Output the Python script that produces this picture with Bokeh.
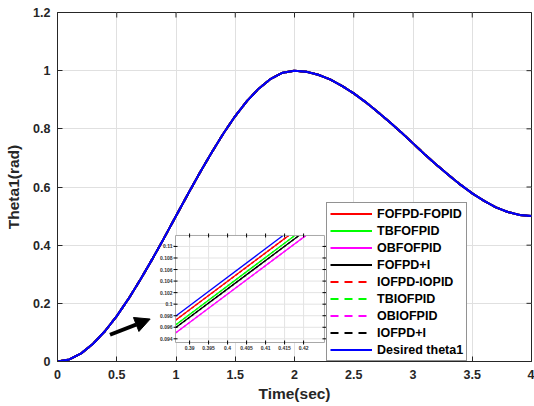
import numpy as np
from bokeh.plotting import figure
from bokeh.models import (Range1d, FixedTicker, Legend, LegendItem,
                          Arrow, NormalHead, NumeralTickFormatter)
from bokeh.core.properties import value
from bokeh.embed import file_html
from bokeh.resources import INLINE

# ---------------- data ----------------
time_s = [0.0, 0.1, 0.2, 0.3, 0.4, 0.5, 0.6, 0.7, 0.8, 0.9,
          1.0, 1.1, 1.2, 1.3, 1.4, 1.5, 1.6, 1.7, 1.8, 1.9,
          2.0, 2.1, 2.2, 2.3, 2.4, 2.5, 2.6, 2.7, 2.8, 2.9,
          3.0, 3.1, 3.2, 3.3, 3.4, 3.5, 3.6, 3.7, 3.8, 3.9, 4.0]
theta1 = [0.000, 0.007, 0.028, 0.061, 0.104, 0.156, 0.216, 0.282, 0.352, 0.425,
          0.500, 0.575, 0.648, 0.718, 0.784, 0.844, 0.896, 0.939, 0.972, 0.993,
          1.000, 0.996, 0.986, 0.970, 0.948, 0.922, 0.892, 0.859, 0.824, 0.788,
          0.750, 0.712, 0.676, 0.641, 0.608, 0.578, 0.552, 0.530, 0.514, 0.504, 0.500]

series_names = ["FOFPD-FOPID", "TBFOFPID", "OBFOFPID", "FOFPD+I",
                "IOFPD-IOPID", "TBIOFPID", "OBIOFPID", "IOFPD+I", "Desired theta1"]
series_colors = ["#ff0000", "#00ff00", "#ff00ff", "#000000",
                 "#ff0000", "#00ff00", "#ff00ff", "#000000", "#0000ff"]
series_dash = ["solid", "solid", "solid", "solid",
               "8 6", "8 6", "8 6", "8 6", "solid"]

x_ticks = [0, 0.5, 1, 1.5, 2, 2.5, 3, 3.5, 4]
x_tick_labels = ["0", "0.5", "1", "1.5", "2", "2.5", "3", "3.5", "4"]
y_ticks = [0, 0.2, 0.4, 0.6, 0.8, 1, 1.2]
y_tick_labels = ["0", "0.2", "0.4", "0.6", "0.8", "1", "1.2"]

# inset (zoomed view)
inset_xlim = [0.3863, 0.4255]
inset_ylim = [0.09336, 0.1119]
inset_place_x = [0.996, 2.253]   # where the inset sits, in main-axis units
inset_place_y = [0.0653, 0.4333]
inset_xticks = [0.39, 0.395, 0.4, 0.405, 0.41, 0.415, 0.42]
inset_xlabels = ["0.39", "0.395", "0.4", "0.405", "0.41", "0.415", "0.42"]
inset_yticks = [0.094, 0.096, 0.098, 0.1, 0.102, 0.104, 0.106, 0.108, 0.11]
inset_ylabels = ["0.094", "0.096", "0.098", "0.1", "0.102", "0.104", "0.106", "0.108", "0.11"]
inset_t_magenta = [0.3863, 0.4206]
inset_y_magenta = [0.0950, 0.1119]
inset_t_black = [0.3863, 0.4188]
inset_y_black = [0.0959, 0.1119]
inset_t_green = [0.3863, 0.4177]
inset_y_green = [0.0964, 0.1119]
inset_t_red = [0.3863, 0.4161]
inset_y_red = [0.0972, 0.1119]
inset_t_blue = [0.3863, 0.4146]
inset_y_blue = [0.0979, 0.1119]

arrow_from = [0.443, 0.092]
arrow_to = [0.782, 0.146]

FONT = "Liberation Sans"
DARK = "#262626"

# ---------------- main figure ----------------
p = figure(width=534, height=406, x_range=Range1d(0, 4), y_range=Range1d(0, 1.2),
           output_backend="svg", toolbar_location=None,
           min_border_left=57, min_border_right=3, min_border_top=12, min_border_bottom=45)
p.background_fill_color = "white"
p.border_fill_color = "white"
p.outline_line_color = DARK
p.outline_line_width = 1

def style_axis(ax, ticks, labels):
    ax.ticker = FixedTicker(ticks=ticks)
    ax.formatter = NumeralTickFormatter(format="0.[0]")
    ax.major_label_overrides = {t: l for t, l in zip(ticks, labels)}
    ax.major_tick_in = 5
    ax.major_tick_out = 0
    ax.minor_tick_in = 0
    ax.minor_tick_out = 0
    ax.axis_line_color = DARK
    ax.major_tick_line_color = DARK
    ax.major_label_text_font = FONT
    ax.major_label_text_font_style = "bold"
    ax.major_label_text_color = DARK
    ax.major_label_text_font_size = "12.5px"
    ax.axis_label_text_font = FONT
    ax.axis_label_text_font_style = "bold"
    ax.axis_label_text_font_size = "15.5px"
    ax.axis_label_text_color = DARK

xa = p.xaxis[0]
style_axis(xa, x_ticks, x_tick_labels)
xa.major_label_standoff = 8
xa.axis_label = "Time(sec)"
xa.axis_label_standoff = 3
ya = p.yaxis[0]
style_axis(ya, y_ticks, y_tick_labels)
ya.major_label_standoff = 7
ya.axis_label = "Theta1(rad)"
ya.axis_label_standoff = 8

p.grid.grid_line_color = "#e0e0e0"
p.grid.grid_line_width = 1

# inward ticks on the top and right edges (half of each dash is clipped by the frame)
p.scatter(x_ticks, [1.2] * len(x_ticks), marker="dash", angle=np.pi / 2, size=10,
          line_color=DARK, line_width=1)
p.scatter([4] * len(y_ticks), y_ticks, marker="dash", size=10, line_color=DARK, line_width=1)

renderers = []
for name, col, dash in zip(series_names, series_colors, series_dash):
    r = p.line(time_s, theta1, line_color=col, line_width=2, line_dash=dash)
    renderers.append(r)

legend = Legend(items=[LegendItem(label=n, renderers=[r]) for n, r in zip(series_names, renderers)],
                location=(269, 0))
legend.border_line_color = DARK
legend.border_line_width = 1
legend.background_fill_color = "white"
legend.background_fill_alpha = 1
legend.label_text_font = FONT
legend.label_text_font_size = "12.5px"
legend.label_text_font_style = "bold"
legend.label_text_color = "black"
legend.glyph_width = 42
legend.glyph_height = 15
legend.label_height = 15
legend.label_standoff = 5
legend.spacing = 2
legend.padding = 3
legend.margin = 0
p.add_layout(legend)

p.add_layout(Arrow(end=NormalHead(size=15, fill_color="black", line_color="black", line_width=1),
                   x_start=arrow_from[0], y_start=arrow_from[1],
                   x_end=arrow_to[0], y_end=arrow_to[1],
                   line_color="black", line_width=4))

# ---------------- inset ----------------
sub = p.subplot(x_source=Range1d(*inset_xlim), y_source=Range1d(*inset_ylim),
                x_target=Range1d(*inset_place_x), y_target=Range1d(*inset_place_y))

sub.quad(left=[inset_xlim[0]], right=[inset_xlim[1]], bottom=[inset_ylim[0]], top=[inset_ylim[1]],
         fill_color="white", line_color=None)
nx, ny = len(inset_xticks), len(inset_yticks)
sub.segment(x0=inset_xticks, y0=[inset_ylim[0]] * nx, x1=inset_xticks, y1=[inset_ylim[1]] * nx,
            line_color="#e3e3e3", line_width=1)
sub.segment(x0=[inset_xlim[0]] * ny, y0=inset_yticks, x1=[inset_xlim[1]] * ny, y1=inset_yticks,
            line_color="#e3e3e3", line_width=1)

inset_lines = [
    (inset_t_magenta, inset_y_magenta, "#ff00ff"),
    (inset_t_black, inset_y_black, "#000000"),
    (inset_t_green, inset_y_green, "#00ff00"),
    (inset_t_red, inset_y_red, "#ff0000"),
    (inset_t_blue, inset_y_blue, "#0000ff"),
]
for tt, yy, col in inset_lines:
    sub.line(tt, yy, line_color=col, line_width=1.3)
for tt, yy, col in inset_lines[:4]:
    sub.line(tt, yy, line_color=col, line_width=1.3, line_dash="3 2")

sub.quad(left=[inset_xlim[0]], right=[inset_xlim[1]], bottom=[inset_ylim[0]], top=[inset_ylim[1]],
         fill_color=None, line_color="#a8a8a8", line_width=1)
sub.scatter(inset_xticks, [inset_ylim[0]] * nx, marker="dash", angle=np.pi / 2, size=4, line_color="black")
sub.scatter(inset_xticks, [inset_ylim[1]] * nx, marker="dash", angle=np.pi / 2, size=4, line_color="black")
sub.scatter([inset_xlim[0]] * ny, inset_yticks, marker="dash", size=4, line_color="black")
sub.scatter([inset_xlim[1]] * ny, inset_yticks, marker="dash", size=4, line_color="black")

sub.text(x=inset_xticks, y=[inset_ylim[0]] * nx, text=inset_xlabels,
         text_font=value(FONT), text_font_size="5px", text_font_style="bold",
         text_color="#333333", text_align="center", text_baseline="top", y_offset=3)
sub.text(x=[inset_xlim[0]] * ny, y=inset_yticks, text=inset_ylabels,
         text_font=value(FONT), text_font_size="5px", text_font_style="bold",
         text_color="#333333", text_align="right", text_baseline="middle", x_offset=-3)

open("out.html", "w").write(file_html(p, INLINE))
